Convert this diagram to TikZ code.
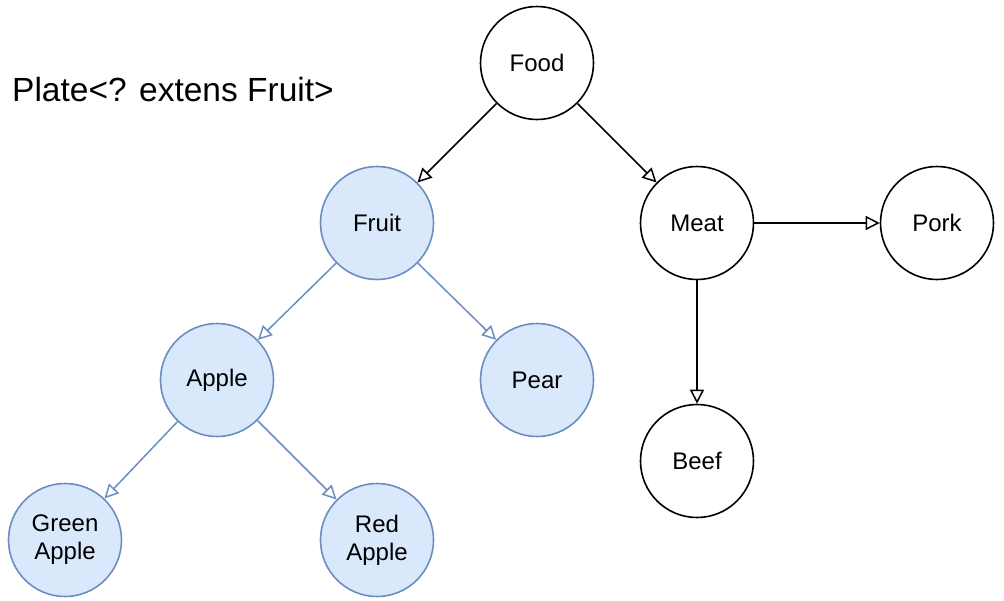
\documentclass[tikz,border=0pt]{standalone}
\usepackage{fontspec}
\setmainfont{Liberation Sans}
\usepackage{tikz}
\usetikzlibrary{arrows.meta}

\definecolor{fruitfill}{HTML}{DAE8FC}
\definecolor{fruitline}{HTML}{6C8EBF}

\tikzset{
  item/.style={circle,draw=black,fill=white,line width=1.6pt,minimum size=113pt,
    inner sep=0pt,align=center,font=\fontsize{24}{28}\selectfont},
  fruititem/.style={item,draw=fruitline,fill=fruitfill},
  isa/.style={line width=1.5pt,-{Triangle[open,length=14pt,width=14pt]}},
  fruitisa/.style={isa,draw=fruitline}
}

\begin{document}
\begin{tikzpicture}[x=1pt,y=-1pt]
    \useasboundingbox (0,0) rectangle (1004,600);

    % --- caption
    \node[anchor=west,inner sep=0pt,font=\fontsize{33.5}{38}\selectfont] (caption) at (12,90) {Plate<? extens Fruit>};

    % --- food / meat (black)
    \node[item] (food) at (537,63) {Food};
    \node[item] (meat) at (697,223) {Meat};
    \node[item] (pork) at (937,223) {Pork};
    \node[item] (beef) at (697,461) {Beef};

    % --- fruit branch (blue)
    \node[fruititem] (fruit) at (377,223) {Fruit};
    \node[fruititem] (apple) at (217,380) {Apple};
    \node[fruititem] (pear) at (537,380) {Pear};
    \node[fruititem] (green) at (65,540) {Green\\Apple};
    \node[fruititem] (red) at (377,540) {Red\\Apple};

    % --- edges
    \draw[isa] (food) -- (fruit);
    \draw[isa] (food) -- (meat);
    \draw[isa] (meat) -- (pork);
    \draw[isa] (meat) -- (beef);

    \draw[fruitisa] (fruit) -- (apple);
    \draw[fruitisa] (fruit) -- (pear);
    \draw[fruitisa] (apple) -- (green);
    \draw[fruitisa] (apple) -- (red);
  \end{tikzpicture}
\end{document}
